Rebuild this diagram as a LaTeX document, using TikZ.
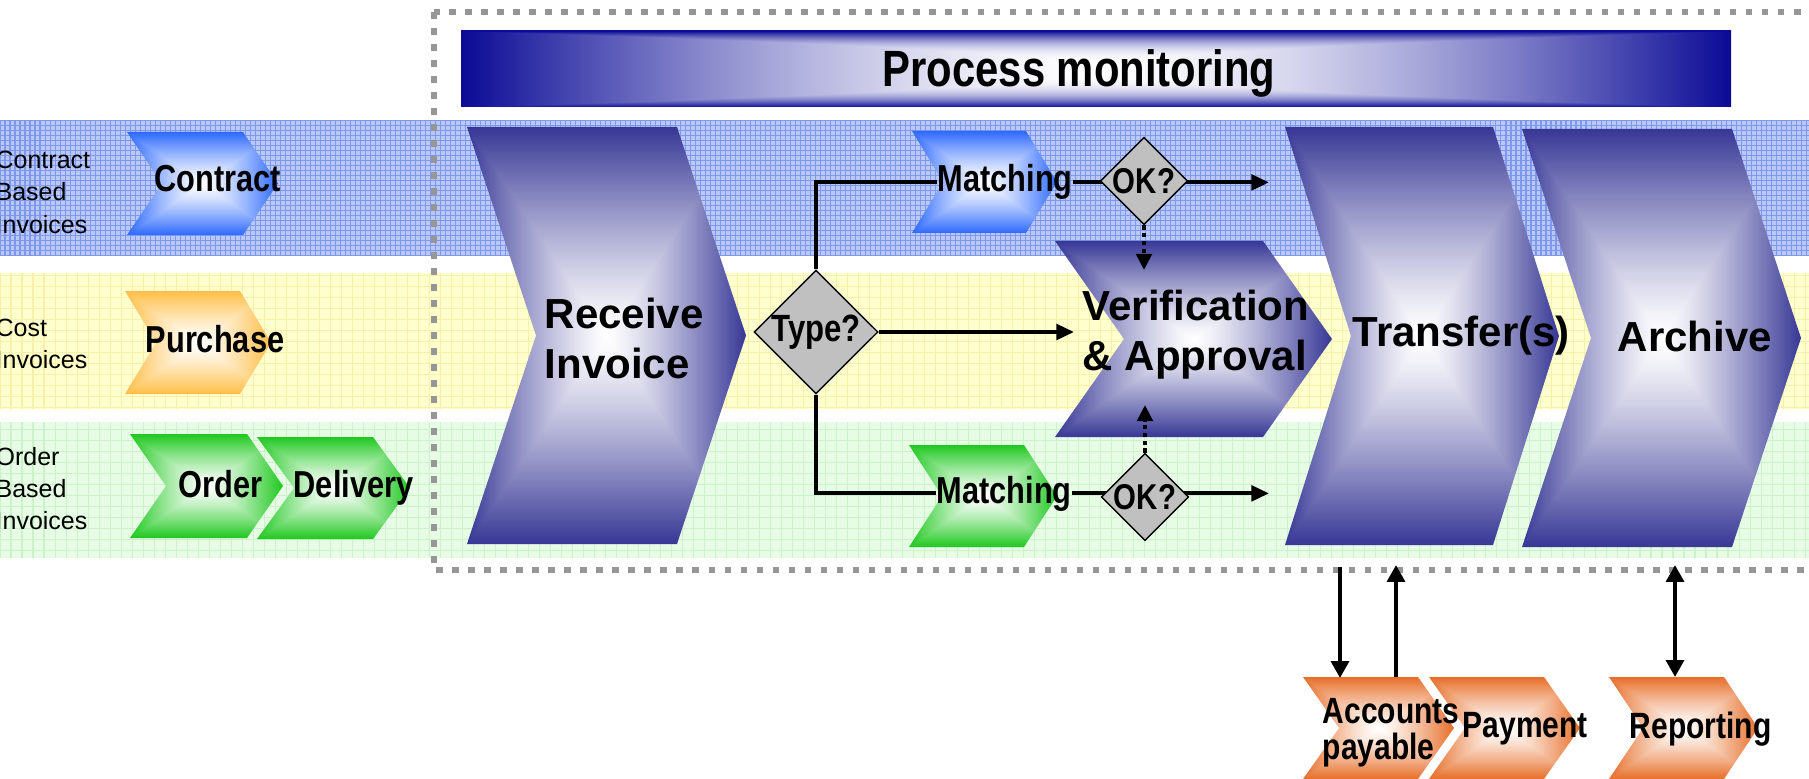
\documentclass[tikz,border=0pt]{standalone}
\usepackage{fontspec}
\setmainfont{Liberation Sans}
\newfontfamily\narrowfont[FakeStretch=0.82]{Liberation Sans}
\usetikzlibrary{arrows.meta}
\usetikzlibrary{shapes.geometric}

\definecolor{laneblue}{RGB}{185,200,245}
\definecolor{gridblue}{RGB}{125,152,238}
\definecolor{laneyellow}{RGB}{255,255,205}
\definecolor{gridyellow}{RGB}{246,240,168}
\definecolor{lanegreen}{RGB}{230,252,228}
\definecolor{gridgreen}{RGB}{204,242,204}
\definecolor{bordergray}{RGB}{150,150,150}
\definecolor{diagray}{RGB}{192,192,192}

% white centre, coloured rim (args: 1-r, 1-g, 1-b of the rim)
\newcommand{\chevshade}[4]{%
\pgfdeclarefunctionalshading{#1}{\pgfpoint{0bp}{0bp}}{\pgfpoint{100bp}{100bp}}{}{%
50 sub abs exch 50 sub abs 2 copy sub abs add add 2 div 25 div
dup 1 sub abs neg add 1 add 2 div dup sqrt sqrt mul
dup #2 mul 1 exch sub exch dup #3 mul 1 exch sub exch #4 mul 1 exch sub}}
\chevshade{navyshade}{0.784}{0.784}{0.412}
\chevshade{blueshade}{0.824}{0.588}{0}
\chevshade{goldshade}{0}{0.255}{0.725}
\chevshade{greenshade}{0.882}{0.216}{0.882}
\chevshade{orangeshade}{0.098}{0.569}{0.843}

\pgfdeclarefunctionalshading{barshade}{\pgfpoint{0bp}{0bp}}{\pgfpoint{100bp}{100bp}}{}{%
50 sub abs 25 div dup dup mul mul exch 50 sub abs 25 div dup sqrt mul
2 copy sub abs add add 2 div dup 1 sub abs neg add 1 add 2 div
dup 0.961 mul 1 exch sub exch dup 0.961 mul 1 exch sub exch 0.412 mul 1 exch sub}

% chevron: shading, left, top, body right, depth, bottom
\newcommand{\chev}[6]{\shade[shading=#1] (#2,#3) -- (#4,#3) -- (#4+#5,{(#3+#6)/2}) -- (#4,#6) -- (#2,#6) -- (#2+#5,{(#3+#6)/2}) -- cycle;}

\tikzset{
  lanetxt/.style={anchor=base west, inner sep=0, align=left, font=\fontsize{7.1}{9.1}\selectfont},
  bigtxt/.style={anchor=base west, inner sep=0, align=left, font=\bfseries\fontsize{11.95}{14.2}\selectfont},
  bartxt/.style={anchor=base west, inner sep=0, font=\narrowfont\bfseries\fontsize{14.5}{16}\selectfont},
  chevtxt/.style={anchor=base west, inner sep=0, font=\narrowfont\bfseries\fontsize{10.67}{12}\selectfont},
  outtxt/.style={anchor=base west, inner sep=0, align=left, font=\narrowfont\bfseries\fontsize{10.4}{10.2}\selectfont},
  decision/.style={diamond, aspect=1, draw=black, line width=0.4pt, fill=diagray, inner sep=0,
    font=\narrowfont\bfseries\fontsize{10.8}{12}\selectfont},
  flow/.style={line width=1.1pt},
  flowarrow/.style={flow, -{Triangle[length=5pt,width=4.4pt]}},
  dotarrow/.style={flow, dash pattern=on 1.2pt off 1pt, -{Triangle[length=4.6pt,width=4.4pt]}},
  linkarrow/.style={line width=1.3pt, -{Triangle[length=4.8pt,width=5pt]}}
}

\begin{document}
\begin{tikzpicture}[x=0.01cm, y=-0.01cm]
\useasboundingbox (0,0) rectangle (1809,779);

\foreach \yt/\yb/\cl/\gr/\st in {120/256/laneblue/gridblue/0.05cm, 273/409/laneyellow/gridyellow/0.11cm, 422/558/lanegreen/gridgreen/0.11cm} {
 \fill[\cl] (0,\yt) rectangle (1809,\yb);
 \draw[\gr, line width=0.3pt, step=\st] (0,\yt) grid (1809,\yb);
}
\node[lanetxt] (lbcontract) at (-5,233) {Contract\\Based\\Invoices};
\node[lanetxt] (lbcost) at (-5,368) {Cost\\Invoices};
\node[lanetxt] (lborder) at (-5,529) {Order\\Based\\Invoices};

\draw[bordergray, line width=0.065cm, dash pattern=on 0.065cm off 0.095cm] (434,12) rectangle (1840,570);

\shade[shading=barshade] (461,31) rectangle (1731,107);
\node[bartxt] (monitor) at (882,87) {Process monitoring};

\foreach \sh/\xl/\yt/\xr/\dd/\yb in {blueshade/127/132/243/35/235, goldshade/125/291/240/31/394,
  greenshade/130/434/247/36/538, greenshade/257/437/373/37/539, navyshade/467/127/677/69/544,
  blueshade/912/131/1026/31/233, greenshade/909/445/1024/33/547, navyshade/1055/241/1263/69/437,
  navyshade/1285/127/1493/66/545, navyshade/1522/129/1732/69/547, orangeshade/1303/677/1418/36/779,
  orangeshade/1429/677/1544/36/779, orangeshade/1609/677/1724/34/779} {
 \chev{\sh}{\xl}{\yt}{\xr}{\dd}{\yb}
}

\node[chevtxt] (contract) at (154,192) {Contract};
\node[chevtxt] (purchase) at (145,352) {Purchase};
\node[chevtxt] (order) at (178,497) {Order};
\node[chevtxt] (delivery) at (293,497) {Delivery};
\node[bigtxt] (receive) at (544,378) {Receive\\Invoice};
\node[chevtxt] (match1) at (937,192) {Matching};
\node[chevtxt] (match2) at (936,503) {Matching};
\node[bigtxt] (verify) at (1082,370) {Verification\\\& Approval};
\node[bigtxt] (transfer) at (1352,347) {Transfer(s)};
\node[bigtxt] (archive) at (1617,351) {Archive};
\node[outtxt] (payable) at (1322,759) {Accounts\\payable};
\node[outtxt] (payment) at (1462,737) {Payment};
\node[outtxt] (reporting) at (1629,738) {Reporting};

\node[decision, minimum width=1.24cm, minimum height=1.22cm] (type) at (816,332) {Type?};

\coordinate (endA) at (1269,180);
\coordinate (endB) at (1269,488);
\coordinate (vin) at (1074,332);
\coordinate (vtop) at (1144,270);
\coordinate (vbot) at (1146,405);

\draw[flow] (type.north) |- (match1.west);
\draw[flow] (type.south) |- (match2.west);
\draw[flowarrow] (type.east) -- (type.east -| vin);
\draw[flowarrow] (match1.east) -- (match1.east -| endA);
\draw[flowarrow] (match2.east) -- (match2.east -| endB);

\node[decision, minimum width=0.85cm, minimum height=0.87cm, font=\narrowfont\bfseries\fontsize{10.2}{12}\selectfont] (okA) at (1144,181) {OK?};
\node[decision, minimum width=0.87cm, minimum height=0.87cm, font=\narrowfont\bfseries\fontsize{10.2}{12}\selectfont] (okB) at (1145,497) {OK?};

\draw[dotarrow] (okA.south) -- (okA.south |- vtop);
\draw[dotarrow] (okB.north) -- (okB.north |- vbot);

\coordinate (brd1) at (1340,567);
\coordinate (brd2) at (1396,565);
\coordinate (brd3) at (1675,565);
\coordinate (ap1) at (1340,678);
\coordinate (ap2) at (1396,677);
\coordinate (rep) at (1675,677);
\draw[linkarrow] (brd1) -- (ap1);
\draw[linkarrow] (ap2) -- (brd2);
\draw[linkarrow, {Triangle[length=4.8pt,width=5pt]}-{Triangle[length=4.8pt,width=5pt]}] (brd3) -- (rep);
\end{tikzpicture}
\end{document}
